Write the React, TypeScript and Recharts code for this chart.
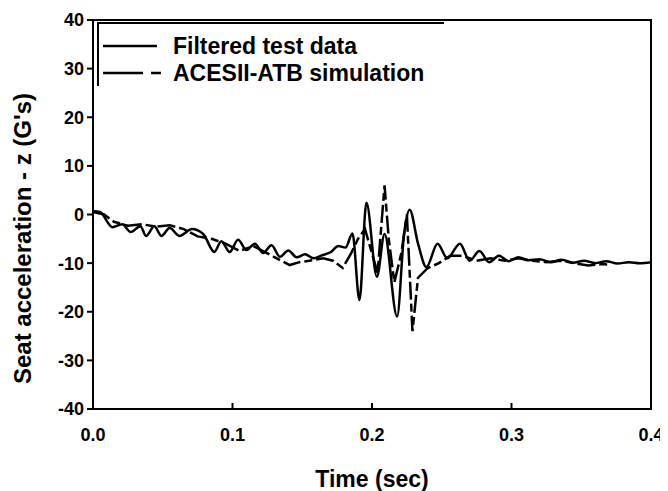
import { LineChart, Line, XAxis, YAxis, ReferenceArea } from "recharts";

// measured test data (solid line)
const testTime = [
  0.0, 0.005, 0.014, 0.021, 0.027, 0.034, 0.038, 0.044, 0.049, 0.055, 0.062, 0.071, 0.079, 0.087, 0.092,
  0.098, 0.104, 0.11, 0.116, 0.122, 0.128, 0.134, 0.14, 0.146, 0.152, 0.158, 0.164, 0.17, 0.176, 0.181,
  0.186, 0.191, 0.196, 0.2035, 0.209, 0.218, 0.223, 0.227, 0.233, 0.239, 0.247, 0.254, 0.263, 0.27, 0.277,
  0.284, 0.291, 0.298, 0.305, 0.312, 0.32, 0.328, 0.336, 0.344, 0.352, 0.36, 0.368, 0.376, 0.384, 0.392, 0.4,
];
const testAccel = [
  0.7, 0.5, -2.6, -2.0, -3.6, -2.4, -4.4, -2.4, -4.4, -2.8, -4.4, -3.0, -4.0, -7.7, -5.5,
  -7.7, -5.2, -7.3, -6.0, -7.9, -6.3, -8.7, -7.4, -8.8, -8.2, -9.0, -8.4, -7.8, -6.5, -6.8,
  -3.9, -17.6, 2.4, -12.8, -4.0, -21.0, -4.0, 1.0, -6.0, -10.8, -6.0, -9.0, -6.0, -9.5, -7.5,
  -9.8, -8.5, -9.6, -8.8, -9.4, -9.2, -9.8, -9.3, -9.9, -9.5, -10.0, -9.6, -10.1, -9.8, -10.0, -9.8,
];

// ACESII-ATB simulation (dashed line)
const simTime = [
  0.0, 0.008, 0.015, 0.025, 0.035, 0.045, 0.055, 0.065, 0.075, 0.085, 0.095, 0.105, 0.115, 0.125, 0.135,
  0.141, 0.148, 0.155, 0.165, 0.172, 0.179, 0.185, 0.19, 0.195, 0.2, 0.204, 0.209, 0.212, 0.216, 0.221,
  0.225, 0.229, 0.233, 0.24, 0.248, 0.256, 0.265, 0.275, 0.285, 0.295, 0.305, 0.315, 0.325, 0.335, 0.345,
  0.355, 0.365, 0.37,
];
const simAccel = [
  0.5, 0.0, -1.5, -2.3, -2.0, -2.5, -2.2, -3.0, -4.5, -5.0, -6.0, -7.5, -6.5, -8.0, -9.5,
  -10.4, -9.8, -9.5, -9.0, -9.5, -11.0, -8.0, -5.0, -3.0, -8.0, -12.0, 6.0, -5.0, -14.0, -8.0,
  0.0, -24.0, -13.0, -11.0, -10.0, -8.5, -8.5, -9.5, -9.0, -9.5, -9.0, -9.5, -9.8, -9.5, -10.0,
  -10.5, -10.2, -10.3,
];

const xTicks = [0, 0.1, 0.2, 0.3, 0.4];
const yTicks = [-40, -30, -20, -10, 0, 10, 20, 30, 40];

const testData = testTime.map((t, i) => ({ t, v: testAccel[i] }));
const simData = simTime.map((t, i) => ({ t, v: simAccel[i] }));

const FONT = "'Liberation Sans', Arial, sans-serif";

// legend box sits on top of the plot, upper-left corner
const LegendBox = () => (
  <div
    style={{
      position: "absolute",
      left: 89,
      top: 14,
      width: 345,
      height: 62,
      borderTop: "2px solid #000",
      borderLeft: "2px solid #000",
      fontFamily: FONT,
      fontWeight: "bold",
      fontSize: 23,
      color: "#000",
      lineHeight: 1,
    }}
  >
    <div style={{ display: "flex", alignItems: "center", height: 26, marginTop: 9 }}>
      <svg width={74} height={10}>
        <line x1={4} y1={5} x2={58} y2={5} stroke="#000" strokeWidth={2.5} />
      </svg>
      <span>Filtered test data</span>
    </div>
    <div style={{ display: "flex", alignItems: "center", height: 26, marginTop: 1 }}>
      <svg width={74} height={10}>
        <line x1={4} y1={5} x2={62} y2={5} stroke="#000" strokeWidth={2.5} strokeDasharray="40 8 10 100" />
      </svg>
      <span>ACESII-ATB simulation</span>
    </div>
  </div>
);

const App = () => {
  return (
    <div style={{ position: "relative", width: 660, height: 483 }}>
      <LineChart width={660} height={483} margin={{ top: 12, right: 17, bottom: 12, left: 0 }}>
        <XAxis
          type="number"
          dataKey="t"
          domain={[0, 0.4]}
          ticks={xTicks}
          tickFormatter={(v: number) => v.toFixed(1)}
          allowDataOverflow
          height={70}
          axisLine={{ stroke: "#000", strokeWidth: 2 }}
          tickLine={{ stroke: "#000", strokeWidth: 2 }}
          tickSize={-6}
          tickMargin={25}
          tick={{ fill: "#000", fontFamily: FONT, fontWeight: "bold", fontSize: 18 }}
          label={{
            value: "Time (sec)",
            position: "insideBottom",
            offset: -8,
            fill: "#000",
            fontFamily: FONT,
            fontWeight: "bold",
            fontSize: 23,
          }}
        />
        <YAxis
          type="number"
          domain={[-40, 40]}
          ticks={yTicks}
          allowDataOverflow
          width={85}
          axisLine={{ stroke: "#000", strokeWidth: 2 }}
          tickLine={{ stroke: "#000", strokeWidth: 2 }}
          tickSize={6}
          tickMargin={3}
          tick={{ fill: "#000", fontFamily: FONT, fontWeight: "bold", fontSize: 18 }}
          label={{
            value: "Seat acceleration - z (G's)",
            angle: -90,
            position: "insideLeft",
            offset: 14,
            dy: 24,
            style: { textAnchor: "middle" },
            fill: "#000",
            fontFamily: FONT,
            fontWeight: "bold",
            fontSize: 24,
          }}
        />
        <ReferenceArea x1={0} x2={0.4} y1={-40} y2={40} fill="none" stroke="#000" strokeWidth={2} ifOverflow="visible" />
        <Line
          data={simData}
          dataKey="v"
          name="ACESII-ATB simulation"
          stroke="#000"
          strokeWidth={2.5}
          strokeDasharray="18 4 8 4"
          dot={false}
          isAnimationActive={false}
        />
        <Line
          data={testData}
          dataKey="v"
          name="Filtered test data"
          type="monotone"
          stroke="#000"
          strokeWidth={2.5}
          dot={false}
          isAnimationActive={false}
        />
      </LineChart>
      <LegendBox />
    </div>
  );
};

export default App;
